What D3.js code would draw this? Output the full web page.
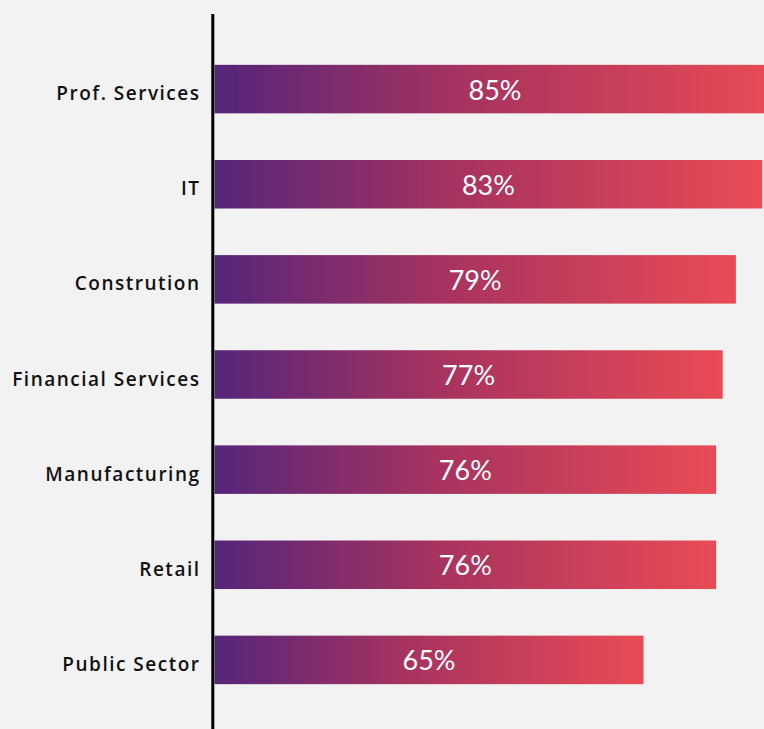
<!DOCTYPE html>
<html>
<head>
<meta charset="utf-8">
<script src="https://cdn.jsdelivr.net/npm/d3@7"></script>
<style>
  html,body{margin:0;padding:0;background:#f2f2f2;}
  svg{display:block;}
</style>
</head>
<body>
<svg id="chart" width="764" height="729"></svg>
<script>
var categories=['Prof. Services','IT','Constrution','Financial Services','Manufacturing','Retail','Public Sector'];
var values=[85,83,79,77,76,76,65];
var valueLabels=['85%','83%','79%','77%','76%','76%','65%'];

var W=764, H=729;
var axisX=212.8, x0=214.5;
var svg=d3.select('#chart');

svg.append('rect').attr('width',W).attr('height',H).attr('fill','#f2f2f2');

// bar gradient, one per bar (objectBoundingBox)
var defs=svg.append('defs');
var grad=defs.append('linearGradient').attr('id','barGrad').attr('x1','0%').attr('x2','100%');
grad.append('stop').attr('offset','0%').attr('stop-color','#55257a');
grad.append('stop').attr('offset','45%').attr('stop-color','#a8335f');
grad.append('stop').attr('offset','100%').attr('stop-color','#e94b55');

var x=d3.scaleLinear().domain([0,100]).range([x0,x0+660]);
var y=d3.scaleBand().domain(categories).range([42,707]).paddingInner(0.49).paddingOuter(0.24);

var g=svg.append('g');

g.selectAll('rect.bar').data(values).enter().append('rect')
  .attr('class','bar')
  .attr('x',x(0))
  .attr('y',function(d,i){return y(categories[i]);})
  .attr('width',function(d){return x(d)-x(0);})
  .attr('height',y.bandwidth())
  .attr('fill','url(#barGrad)');

g.selectAll('text.val').data(values).enter().append('text')
  .attr('class','val')
  .attr('x',function(d){return (x(0)+x(d))/2;})
  .attr('y',function(d,i){return y(categories[i])+y.bandwidth()/2+10.5;})
  .attr('text-anchor','middle')
  .attr('fill','#ffffff')
  .attr('font-family','Lato, sans-serif')
  .attr('font-size','27px')
  .text(function(d,i){return valueLabels[i];});

g.selectAll('text.cat').data(categories).enter().append('text')
  .attr('class','cat')
  .attr('x',200.5)
  .attr('y',function(d){return y(d)+y.bandwidth()/2+11;})
  .attr('text-anchor','end')
  .attr('fill','#111111')
  .attr('font-family','"Open Sans", sans-serif')
  .attr('font-weight','600')
  .attr('font-size','19px')
  .attr('letter-spacing','1.5px')
  .text(function(d){return d;});

svg.append('line')
  .attr('x1',axisX).attr('x2',axisX)
  .attr('y1',14).attr('y2',H)
  .attr('stroke','#000').attr('stroke-width',3);
</script>
</body>
</html>
